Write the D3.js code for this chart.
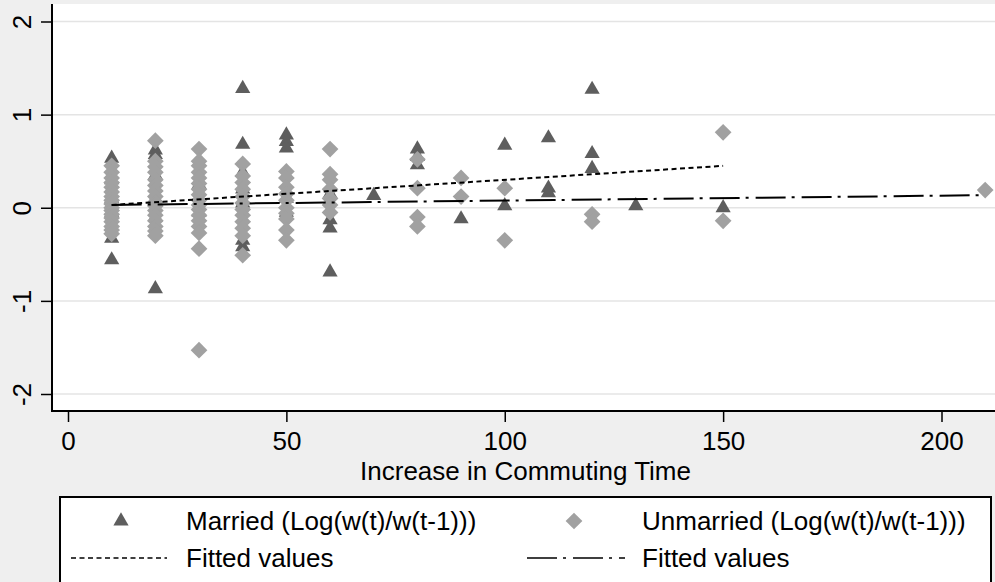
<!DOCTYPE html>
<html>
<head>
<meta charset="utf-8">
<script src="https://cdn.jsdelivr.net/npm/d3@7"></script>
<style>
  body { margin: 0; background: #efefef; }
  svg { display: block; font-family: "Liberation Sans", Arial, sans-serif; }
</style>
</head>
<body>
<div id="chart"></div>
<script>
// data: [commute increase, log wage change]
var married = [
  [10, 0.53], [10, 0.3], [10, 0.1], [10, -0.05], [10, -0.2], [10, -0.33], [10, -0.56],
  [20, 0.62], [20, 0.57], [20, 0.35], [20, 0.1], [20, -0.1], [20, -0.87],
  [30, 0.25], [30, -0.05],
  [40, 1.28], [40, 0.68], [40, 0.38], [40, 0.2], [40, 0.05], [40, -0.35], [40, -0.42],
  [50, 0.78], [50, 0.71], [50, 0.64], [50, 0.1], [50, -0.05],
  [60, 0.15], [60, -0.13], [60, -0.22], [60, -0.69],
  [70, 0.13],
  [80, 0.63], [80, 0.55], [80, 0.46],
  [90, -0.12],
  [100, 0.67], [100, 0.02],
  [110, 0.75], [110, 0.21], [110, 0.16],
  [120, 1.27], [120, 0.58], [120, 0.42],
  [130, 0.02],
  [150, 0.0]
];

var unmarried = [
  [10, 0.45], [10, 0.38], [10, 0.32], [10, 0.27], [10, 0.22], [10, 0.17], [10, 0.12], [10, 0.08], [10, 0.04],
  [10, 0.0], [10, -0.03], [10, -0.07], [10, -0.11], [10, -0.15], [10, -0.2], [10, -0.24], [10, -0.28],
  [20, 0.72], [20, 0.5], [20, 0.44], [20, 0.38], [20, 0.3], [20, 0.24], [20, 0.18], [20, 0.12], [20, 0.06],
  [20, 0.02], [20, -0.03], [20, -0.08], [20, -0.14], [20, -0.2], [20, -0.25], [20, -0.3],
  [30, 0.63], [30, 0.5], [30, 0.45], [30, 0.38], [30, 0.32], [30, 0.26], [30, 0.2], [30, 0.14], [30, 0.08],
  [30, 0.03], [30, -0.02], [30, -0.08], [30, -0.14], [30, -0.2], [30, -0.27], [30, -0.44], [30, -1.53],
  [40, 0.47], [40, 0.34], [40, 0.27], [40, 0.2], [40, 0.12], [40, 0.05], [40, -0.02], [40, -0.08],
  [40, -0.15], [40, -0.22], [40, -0.3], [40, -0.51],
  [50, 0.39], [50, 0.32], [50, 0.22], [50, 0.15], [50, 0.08], [50, 0.0], [50, -0.06], [50, -0.12],
  [50, -0.24], [50, -0.35],
  [60, 0.63], [60, 0.36], [60, 0.3], [60, 0.2], [60, 0.1], [60, 0.03], [60, -0.05],
  [80, 0.52], [80, 0.21], [80, -0.1], [80, -0.2],
  [90, 0.32], [90, 0.12],
  [100, 0.21], [100, -0.35],
  [120, -0.07], [120, -0.15],
  [150, 0.81], [150, -0.14],
  [210, 0.19]
];

// fitted lines (straight, endpoints)
var marriedFit = [[10, 0.03], [150, 0.45]];
var unmarriedFit = [[10, 0.03], [210, 0.135]];

var xTicks = [0, 50, 100, 150, 200];
var yTicks = [-2, -1, 0, 1, 2];
var legendLabels = ["Married (Log(w(t)/w(t-1)))", "Unmarried (Log(w(t)/w(t-1)))", "Fitted values", "Fitted values"];

// layout
var W = 995, H = 582;
var plot = { left: 52, top: 4, right: 995, bottom: 411 };
var fontSize = 26;
var darkGrey = "#5e5e5e", lightGrey = "#a1a1a1";
var dashFit = "5,3.5", dashDotFit = "30,6,3,7";

var svg = d3.select("#chart").append("svg")
    .attr("width", W)
    .attr("height", H);

svg.append("rect").attr("width", W).attr("height", H).attr("fill", "#efefef");

// plot region
svg.append("rect")
    .attr("x", plot.left).attr("y", plot.top)
    .attr("width", plot.right - plot.left).attr("height", plot.bottom - plot.top)
    .attr("fill", "#ffffff");

var x = d3.scaleLinear().domain([0, 200]).range([68, 941.5]);
var y = d3.scaleLinear().domain([-2, 2]).range([394, 21.5]);

// gridlines
svg.append("g").selectAll("line")
    .data(yTicks)
    .enter().append("line")
    .attr("x1", plot.left).attr("x2", plot.right)
    .attr("y1", function (d) { return y(d); })
    .attr("y2", function (d) { return y(d); })
    .attr("stroke", "#e4e4e4")
    .attr("stroke-width", 1.5);

// plain hyphen for negatives, like the original
var fmt = function (d) { return String(d); };

// y axis
var yAxis = svg.append("g")
    .attr("transform", "translate(" + plot.left + ",0)")
    .call(d3.axisLeft(y).tickValues(yTicks).tickSize(11).tickSizeOuter(0).tickFormat(fmt));
yAxis.select(".domain").attr("d", "M0," + plot.top + "V" + plot.bottom).attr("stroke-width", 2);
yAxis.selectAll(".tick line").attr("stroke-width", 1.5);
yAxis.selectAll(".tick text")
    .attr("x", null).attr("dy", null)
    .attr("text-anchor", "middle")
    .attr("transform", "translate(-21,0) rotate(-90)")
    .attr("y", 0)
    .style("font-size", fontSize + "px")
    .style("font-family", "Liberation Sans, Arial, sans-serif")
    .attr("fill", "#000");

// x axis
var xAxis = svg.append("g")
    .attr("transform", "translate(0," + plot.bottom + ")")
    .call(d3.axisBottom(x).tickValues(xTicks).tickSize(11).tickSizeOuter(0).tickFormat(fmt));
xAxis.select(".domain").attr("d", "M" + (plot.left - 1) + ",0H" + plot.right).attr("stroke-width", 2);
xAxis.selectAll(".tick line").attr("stroke-width", 1.5);
xAxis.selectAll(".tick text")
    .attr("dy", null)
    .attr("y", 39)
    .style("font-size", fontSize + "px")
    .style("font-family", "Liberation Sans, Arial, sans-serif")
    .attr("fill", "#000");

// x axis title
svg.append("text")
    .attr("x", (plot.left + plot.right) / 2 + 2)
    .attr("y", 480)
    .attr("text-anchor", "middle")
    .style("font-size", fontSize + "px")
    .text("Increase in Commuting Time");

// markers
var triangle = d3.symbol().type(d3.symbolTriangle).size(100);
var diamond = d3.symbol().type(d3.symbolSquare).size(140);

svg.append("g").selectAll("path")
    .data(married)
    .enter().append("path")
    .attr("d", triangle)
    .attr("transform", function (d) { return "translate(" + x(d[0]) + "," + y(d[1]) + ")"; })
    .attr("fill", darkGrey);

svg.append("g").selectAll("path")
    .data(unmarried)
    .enter().append("path")
    .attr("d", diamond)
    .attr("transform", function (d) { return "translate(" + x(d[0]) + "," + y(d[1]) + ") rotate(45)"; })
    .attr("fill", lightGrey);

// fitted lines
var line = d3.line()
    .x(function (d) { return x(d[0]); })
    .y(function (d) { return y(d[1]); });

svg.append("path")
    .datum(marriedFit)
    .attr("d", line)
    .attr("fill", "none")
    .attr("stroke", "#000")
    .attr("stroke-width", 2)
    .attr("stroke-dasharray", dashFit);

svg.append("path")
    .datum(unmarriedFit)
    .attr("d", line)
    .attr("fill", "none")
    .attr("stroke", "#000")
    .attr("stroke-width", 2)
    .attr("stroke-dasharray", dashDotFit);

// legend
var legend = svg.append("g");
legend.append("rect")
    .attr("x", 60).attr("y", 497)
    .attr("width", 931).attr("height", 120)
    .attr("fill", "#fff")
    .attr("stroke", "#000")
    .attr("stroke-width", 2);

legend.append("path")
    .attr("d", triangle)
    .attr("transform", "translate(121,521)")
    .attr("fill", darkGrey);
legend.append("path")
    .attr("d", diamond)
    .attr("transform", "translate(574,521) rotate(45)")
    .attr("fill", lightGrey);
legend.append("line")
    .attr("x1", 71).attr("x2", 167).attr("y1", 558).attr("y2", 558)
    .attr("stroke", "#000").attr("stroke-width", 1.5)
    .attr("stroke-dasharray", dashFit);
legend.append("line")
    .attr("x1", 527).attr("x2", 625).attr("y1", 558).attr("y2", 558)
    .attr("stroke", "#000").attr("stroke-width", 1.5)
    .attr("stroke-dasharray", dashDotFit);

var legendPos = [[186, 530], [642, 530], [186, 567], [642, 567]];
legend.selectAll("text.lab")
    .data(legendLabels)
    .enter().append("text")
    .attr("class", "lab")
    .attr("x", function (d, i) { return legendPos[i][0]; })
    .attr("y", function (d, i) { return legendPos[i][1]; })
    .style("font-size", fontSize + "px")
    .text(function (d) { return d; });
</script>
</body>
</html>
